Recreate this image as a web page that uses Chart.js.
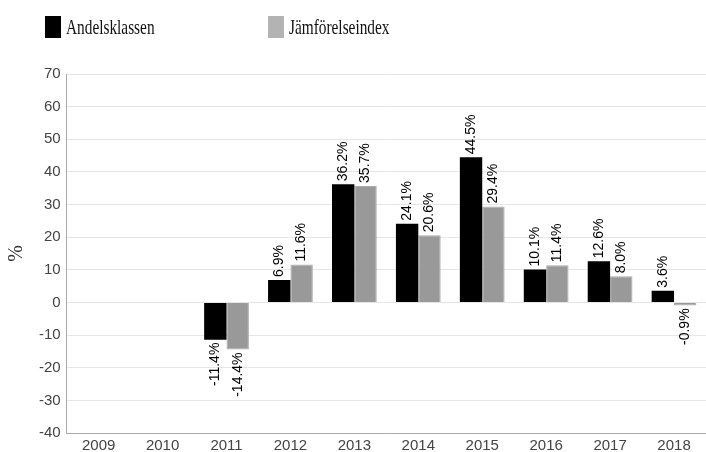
<!DOCTYPE html>
<html>
<head>
<meta charset="utf-8">
<script src="https://cdn.jsdelivr.net/npm/chart.js@4"></script>
<style>
  html, body { margin: 0; padding: 0; background: #fff; overflow: hidden; }
  #wrap { position: relative; width: 706px; height: 452px; }
  #chart { position: absolute; left: 0; top: 0; }
  .leg { position: absolute; top: 16px; font-family: 'Liberation Serif', serif; font-size: 21px; color: #111; line-height: 22px; white-space: nowrap; }
  .leg span { display: inline-block; width: 16px; height: 22px; vertical-align: top; margin-right: 5px; }
  .leg b { font-weight: normal; display: inline-block; transform: scaleX(0.73); transform-origin: left center; }
</style>
</head>
<body>
<div id="wrap">
  <canvas id="chart" width="706" height="452"></canvas>
  <div class="leg" style="left:45px"><span style="background:#000"></span><b>Andelsklassen</b></div>
  <div class="leg" style="left:268px"><span style="background:#b3b3b3"></span><b>Jämförelseindex</b></div>
</div>
<script>
const years = ['2009', '2010', '2011', '2012', '2013', '2014', '2015', '2016', '2017', '2018'];
const andelsklassen = [null, null, -11.4, 6.9, 36.2, 24.1, 44.5, 10.1, 12.6, 3.6];
const jamforelseindex = [null, null, -14.4, 11.6, 35.7, 20.6, 29.4, 11.4, 8.0, -0.9];

const tickFont = { family: '"Liberation Sans", Arial, sans-serif', size: 15 };

// etiketter roterade 90 grader ovanför/under staplarna
const barLabels = {
    id: 'barLabels',
    afterDatasetsDraw(chart) {
        const ctx = chart.ctx;
        ctx.save();
        ctx.font = '14px "Liberation Sans", Arial, sans-serif';
        ctx.fillStyle = '#000';
        ctx.textBaseline = 'middle';
        chart.data.datasets.forEach((ds, i) => {
            chart.getDatasetMeta(i).data.forEach((bar, j) => {
                const v = ds.data[j];
                if (v === null || v === undefined) return;
                const txt = v.toFixed(1) + '%';
                ctx.save();
                ctx.translate(bar.x, v >= 0 ? bar.y - 3 : bar.y + 3);
                ctx.rotate(-Math.PI / 2);
                ctx.textAlign = v >= 0 ? 'left' : 'right';
                ctx.fillText(txt, 0, 0);
                ctx.restore();
            });
        });
        ctx.restore();
    }
};

new Chart(document.getElementById('chart'), {
    type: 'bar',
    data: {
        labels: years,
        datasets: [
            { label: 'Andelsklassen', data: andelsklassen, backgroundColor: '#000' },
            { label: 'Jämförelseindex', data: jamforelseindex, backgroundColor: '#999', borderColor: '#aaa', borderWidth: 1 }
        ]
    },
    options: {
        responsive: false,
        animation: false,
        layout: { padding: { top: 74, right: 0, bottom: -7, left: 0 } },
        datasets: { bar: { barPercentage: 1, categoryPercentage: 0.7 } },
        plugins: { legend: { display: false }, tooltip: { enabled: false } },
        scales: {
            x: {
                grid: { display: false, drawTicks: false },
                border: { color: '#aaa' },
                ticks: { color: '#444', font: tickFont, padding: 4 }
            },
            y: {
                min: -40, max: 70,
                ticks: { stepSize: 10, color: '#444', font: tickFont, padding: 6 },
                grid: { color: '#e6e6e6', drawTicks: false },
                border: { color: '#aaa' },
                title: { display: true, text: '%', color: '#333', font: { family: '"Liberation Serif", serif', size: 20 }, padding: { top: 5, bottom: 4 } }
            }
        }
    },
    plugins: [barLabels]
});
</script>
</body>
</html>
